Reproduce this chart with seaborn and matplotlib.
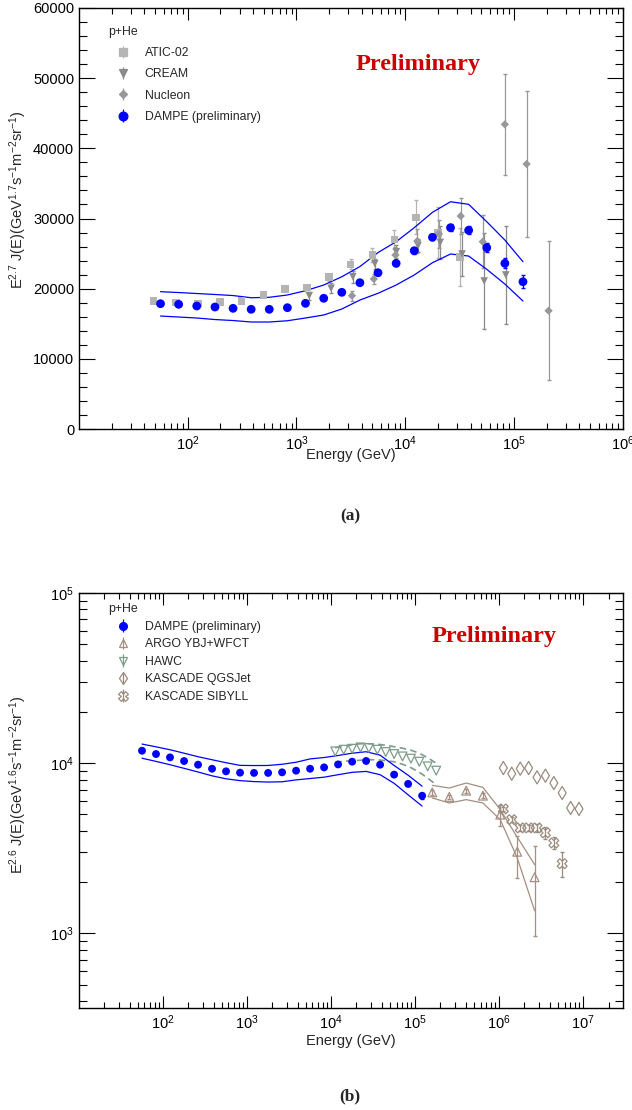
import numpy as np
import matplotlib
matplotlib.use("Agg")
import matplotlib.pyplot as plt
import seaborn as sns
from matplotlib.ticker import FixedLocator, LogLocator, MultipleLocator, NullFormatter, LogFormatterMathtext

# ---------------- panel (a): E^2.7 weighted p+He flux ----------------
dampe_e = [56.2, 82.5, 121, 178, 261, 383, 562, 825, 1210, 1780, 2610, 3830, 5620,
           8250, 12100, 17800, 26100, 38300, 56200, 82500, 121000]
dampe_a = [17860, 17770, 17530, 17390, 17200, 17060, 17060, 17290, 17910, 18630, 19480,
           20850, 22270, 23610, 25410, 27320, 28690, 28320, 25840, 23610, 20990]
dampe_a_err = [150, 150, 150, 150, 150, 150, 150, 150, 150, 200, 200, 250, 300, 350,
               400, 450, 500, 550, 600, 700, 900]
dampe_a_hi = [19570, 19450, 19310, 19170, 19020, 18710, 18770, 19100, 19710, 20520, 21700,
              23150, 25150, 26690, 28690, 30880, 32390, 32020, 29540, 26930, 23840]
dampe_a_lo = [16100, 15960, 15820, 15600, 15460, 15250, 15250, 15430, 15820, 16250, 17100,
              18380, 19340, 20520, 21950, 23700, 24940, 24650, 22760, 20660, 18240]

atic_e = [48.5, 78, 124, 197, 313, 496, 785, 1250, 1990, 3150, 5000, 7940, 12600, 20000, 32000]
atic_a = [18280, 18050, 17900, 18100, 18240, 19140, 19950, 20190, 21660, 23470, 24770,
          27030, 30170, 27970, 24510]
atic_err = [150, 150, 150, 200, 200, 250, 300, 350, 500, 700, 1000, 1400, 2400, 3600, 4100]

cream_e = [1310, 2080, 3300, 5250, 8280, 13100, 21000, 33300, 53200, 84100]
cream_a = [19000, 20050, 21700, 23560, 25270, 26120, 26600, 24940, 21090, 21950]
cream_err = [550, 700, 850, 700, 900, 900, 2400, 3200, 6900, 7000]

nucleon_e = [3240, 5140, 8130, 12900, 20400, 32400, 51600, 82400, 130600, 208000]
nucleon_a = [19000, 21380, 24800, 26790, 27800, 30350, 26690, 43420, 37760, 16860]
nucleon_err = [700, 700, 1200, 1700, 2000, 2600, 3800, 7200, 10400, 9900]

# ---------------- panel (b): E^2.6 weighted p+He flux ----------------
dampe_b = [11840, 11320, 10820, 10300, 9800, 9280, 8960, 8800, 8770, 8770, 8840, 9040,
           9280, 9450, 9840, 10210, 10310, 9800, 8570, 7560, 6440]
dampe_b_err = [60, 60, 60, 60, 60, 60, 60, 60, 60, 70, 70, 80, 90, 100, 110, 130, 150,
               170, 190, 220, 280]
dampe_b_hi = [12960, 12480, 12000, 11450, 10920, 10480, 10070, 9710, 9690, 9700, 9860,
              10130, 10600, 10800, 11100, 11450, 11680, 11150, 9700, 8500, 7330]
dampe_b_lo = [10700, 10250, 9800, 9330, 8880, 8430, 8100, 7900, 7800, 7750, 7780, 7980,
              8130, 8280, 8560, 8840, 8950, 8560, 7620, 6520, 5600]

argo_e = [1.6e5, 2.55e5, 4.05e5, 6.4e5, 1.03e6, 1.64e6, 2.64e6]
argo_b = [6740, 6340, 6900, 6450, 4990, 3020, 2140]
argo_err_lo = [200, 200, 200, 200, 690, 900, 1170]
argo_err_hi = [200, 200, 200, 200, 660, 700, 1140]
argo_hi = [7410, 7150, 7650, 7210, 5340, 3680, 2540]
argo_lo = [6250, 5840, 6110, 5840, 4660, 2780, 1360]

hawc_e = [11200, 14100, 17800, 22400, 28200, 35500, 44700, 56200, 70800, 89100,
          112000, 141000, 178000]
hawc_b = [11730, 12000, 12160, 12380, 12280, 12000, 11630, 11320, 10960, 10630, 10200,
          9580, 9040]
hawc_hi = [12330, 12580, 12840, 13010, 13010, 12930, 12750, 12500, 12250, 11920, 11450,
           10770, 10000]
hawc_lo = [10140, 10270, 10340, 10410, 10480, 10480, 10340, 10200, 9860, 9410, 8860,
           8170, 7480]

kqgs_e = [1.12e6, 1.41e6, 1.78e6, 2.24e6, 2.82e6, 3.55e6, 4.47e6, 5.62e6, 7.08e6, 8.91e6]
kqgs_b = [9370, 8680, 9290, 9370, 8260, 8450, 7650, 6690, 5460, 5390]

ksib_e = [1.12e6, 1.41e6, 1.78e6, 2.24e6, 2.82e6, 3.55e6, 4.47e6, 5.62e6]
ksib_b = [5390, 4660, 4170, 4170, 4170, 3900, 3400, 2570]
ksib_err = [150, 150, 150, 150, 250, 300, 270, 420]

BLUE = "#0000ff"
ATIC_C = "#b4b4b4"
CREAM_C = "#8a8a8a"
NUC_C = "#989898"
HAWC_C = "#7e9c8b"
ARGO_C = "#a48f82"
KAS_C = "#9a8b7f"
RED = "#cc0000"

sns.set_theme(style="ticks")
plt.rcParams["font.family"] = ["Liberation Sans", "DejaVu Sans"]
plt.rcParams["mathtext.fontset"] = "custom"
plt.rcParams["mathtext.rm"] = "Liberation Sans"
plt.rcParams["mathtext.it"] = "Liberation Sans:italic"
plt.rcParams["mathtext.bf"] = "Liberation Sans:bold"


def style_axes(ax):
    for s in ax.spines.values():
        s.set_linewidth(1.0)
        s.set_color("black")
    ax.tick_params(axis="both", which="both", direction="in", top=True, right=True,
                   width=0.8, color="black", labelsize=10.5, labelcolor="black")
    ax.tick_params(axis="y", which="major", length=11.5)
    ax.tick_params(axis="y", which="minor", length=5.8)
    ax.tick_params(axis="x", which="major", length=8.6, pad=4)
    ax.tick_params(axis="x", which="minor", length=4.0)
    ax.grid(False)


def dots(ax, x, y, marker, color, size, open_=False, z=3):
    if open_:
        sns.scatterplot(x=x, y=y, marker=marker, s=size, facecolor="none",
                        edgecolor=color, linewidth=0.9, ax=ax, zorder=z, legend=False)
    else:
        sns.scatterplot(x=x, y=y, marker=marker, s=size, color=color,
                        edgecolor="none", linewidth=0, ax=ax, zorder=z, legend=False)


def line(ax, x, y, color, lw=0.9, dashes=None):
    sns.lineplot(x=x, y=y, color=color, linewidth=lw, sort=False, estimator=None,
                 ax=ax, legend=False, zorder=2)
    if dashes is not None:
        ax.lines[-1].set_dashes(dashes)


def handle(ax, marker, color, ms, open_=False):
    return ax.errorbar([np.nan], [np.nan], yerr=[1], fmt=marker, color=color, ms=ms,
                       mfc="none" if open_ else color, mec=color, mew=0.9,
                       elinewidth=0.9, capsize=0)


fig = plt.figure(figsize=(6.32, 11.10), dpi=100)

# ======================= panel (a) =======================
ax = fig.add_axes([0.125, 0.6135, 0.8603, 0.3793])
ax.set_xscale("log")
ax.set_xlim(10, 1e6)
ax.set_ylim(0, 60000)

ax.errorbar(atic_e, atic_a, yerr=atic_err, fmt="none", ecolor=ATIC_C, elinewidth=0.9,
            capsize=1.2, zorder=2)
dots(ax, atic_e, atic_a, "s", ATIC_C, 30)
ax.errorbar(cream_e, cream_a, yerr=cream_err, fmt="none", ecolor=CREAM_C, elinewidth=0.9,
            capsize=1.2, zorder=2)
dots(ax, cream_e, cream_a, "v", CREAM_C, 30)
ax.errorbar(nucleon_e, nucleon_a, yerr=nucleon_err, fmt="none", ecolor=NUC_C,
            elinewidth=0.9, capsize=1.2, zorder=2)
dots(ax, nucleon_e, nucleon_a, "D", NUC_C, 18)

line(ax, dampe_e, dampe_a_hi, BLUE)
line(ax, dampe_e, dampe_a_lo, BLUE)
ax.errorbar(dampe_e, dampe_a, yerr=dampe_a_err, fmt="none", ecolor=BLUE, elinewidth=0.9,
            capsize=1.2, zorder=4)
dots(ax, dampe_e, dampe_a, "o", BLUE, 40, z=5)

ax.xaxis.set_major_locator(FixedLocator([1e2, 1e3, 1e4, 1e5, 1e6]))
ax.xaxis.set_major_formatter(LogFormatterMathtext())
ax.xaxis.set_minor_locator(LogLocator(base=10, subs=np.arange(2, 10), numticks=20))
ax.xaxis.set_minor_formatter(NullFormatter())
ax.yaxis.set_major_locator(MultipleLocator(10000))
ax.yaxis.set_minor_locator(MultipleLocator(2000))
style_axes(ax)

ax.set_xlabel("Energy (GeV)", fontsize=10.5, va="center")
ax.xaxis.set_label_coords(0.5, -0.062)
ax.set_ylabel(r"E$^{2.7}$ J(E)(GeV$^{1.7}$s$^{-1}$m$^{-2}$sr$^{-1}$)", fontsize=10.5,
              va="center")
ax.yaxis.set_label_coords(-0.112, 0.545)

hs = [handle(ax, "s", ATIC_C, 5.5), handle(ax, "v", CREAM_C, 5.5),
      handle(ax, "D", NUC_C, 4.2), handle(ax, "o", BLUE, 6.3)]
leg = ax.legend(hs, ["ATIC-02", "CREAM", "Nucleon", "DAMPE (preliminary)"],
                title="p+He", alignment="left", frameon=False, loc="upper left",
                bbox_to_anchor=(0.0533, 0.958), borderpad=0, borderaxespad=0,
                handlelength=2.5, handletextpad=0.5, labelspacing=0.76, fontsize=8.8,
                title_fontsize=8.8)
ax.text(0.6244, 0.866, "Preliminary", transform=ax.transAxes, ha="center", va="center",
        fontsize=17.5, fontweight="bold", color=RED, family=["Liberation Serif"])

# ======================= panel (b) =======================
bx = fig.add_axes([0.125, 0.0919, 0.8603, 0.3739])
bx.set_xscale("log")
bx.set_yscale("log")
bx.set_xlim(10, 2.95e7)
bx.set_ylim(365, 1e5)

line(bx, hawc_e, hawc_hi, HAWC_C, lw=1.2, dashes=(4, 2.5))
line(bx, hawc_e, hawc_lo, HAWC_C, lw=1.2, dashes=(4, 2.5))
dots(bx, hawc_e, hawc_b, "v", HAWC_C, 40, open_=True)

line(bx, argo_e, argo_hi, ARGO_C, lw=0.9)
line(bx, argo_e, argo_lo, ARGO_C, lw=0.9)
bx.errorbar(argo_e, argo_b, yerr=[argo_err_lo, argo_err_hi], fmt="none", ecolor=ARGO_C,
            elinewidth=0.9, capsize=1.5, zorder=2)
dots(bx, argo_e, argo_b, "^", ARGO_C, 40, open_=True)

dots(bx, kqgs_e, kqgs_b, "d", KAS_C, 45, open_=True)
bx.errorbar(ksib_e, ksib_b, yerr=ksib_err, fmt="none", ecolor=KAS_C, elinewidth=0.9,
            capsize=1.5, zorder=2)
dots(bx, ksib_e, ksib_b, "X", KAS_C, 50, open_=True)

line(bx, dampe_e, dampe_b_hi, BLUE)
line(bx, dampe_e, dampe_b_lo, BLUE)
bx.errorbar(dampe_e, dampe_b, yerr=dampe_b_err, fmt="none", ecolor=BLUE, elinewidth=0.9,
            capsize=1.2, zorder=4)
dots(bx, dampe_e, dampe_b, "o", BLUE, 32, z=5)

bx.xaxis.set_major_locator(FixedLocator([1e2, 1e3, 1e4, 1e5, 1e6, 1e7]))
bx.xaxis.set_major_formatter(LogFormatterMathtext())
bx.xaxis.set_minor_locator(LogLocator(base=10, subs=np.arange(2, 10), numticks=30))
bx.xaxis.set_minor_formatter(NullFormatter())
bx.yaxis.set_major_locator(FixedLocator([1e3, 1e4, 1e5]))
bx.yaxis.set_major_formatter(LogFormatterMathtext())
bx.yaxis.set_minor_locator(LogLocator(base=10, subs=np.arange(2, 10), numticks=30))
bx.yaxis.set_minor_formatter(NullFormatter())
style_axes(bx)

bx.set_xlabel("Energy (GeV)", fontsize=10.5, va="center")
bx.xaxis.set_label_coords(0.5, -0.08)
bx.set_ylabel(r"E$^{2.6}$ J(E)(GeV$^{1.6}$s$^{-1}$m$^{-2}$sr$^{-1}$)", fontsize=10.5,
              va="center")
bx.yaxis.set_label_coords(-0.112, 0.537)

hs = [handle(bx, "o", BLUE, 5.6), handle(bx, "^", ARGO_C, 5.5, True),
      handle(bx, "v", HAWC_C, 5.5, True), handle(bx, "d", KAS_C, 6.5, True),
      handle(bx, "X", KAS_C, 6.5, True)]
bx.legend(hs, ["DAMPE (preliminary)", "ARGO YBJ+WFCT", "HAWC", "KASCADE QGSJet",
               "KASCADE SIBYLL"],
          title="p+He", alignment="left", frameon=False, loc="upper left",
          bbox_to_anchor=(0.0533, 0.975), borderpad=0, borderaxespad=0,
          handlelength=2.5, handletextpad=0.5, labelspacing=0.45, fontsize=8.8,
          title_fontsize=8.8)
bx.text(0.763, 0.894, "Preliminary", transform=bx.transAxes, ha="center", va="center",
        fontsize=17.5, fontweight="bold", color=RED, family=["Liberation Serif"])

fig.text(350 / 632, 1 - 516 / 1110, "(a)", ha="center", va="center", fontsize=12.5,
         fontweight="bold", family=["Liberation Serif"])
fig.text(350 / 632, 1 - 1096 / 1110, "(b)", ha="center", va="center", fontsize=12.5,
         fontweight="bold", family=["Liberation Serif"])

fig.savefig("out.png", dpi=100)
